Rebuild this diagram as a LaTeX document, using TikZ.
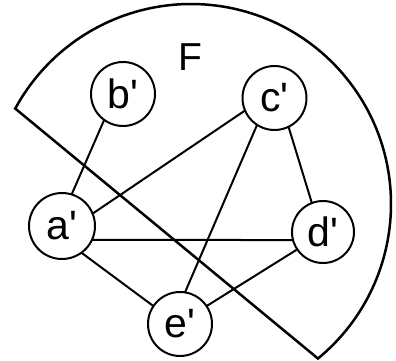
\documentclass[tikz,border=0pt]{standalone}
\usepackage{fontspec}
\newfontfamily\lab{Liberation Sans}
\begin{document}
\begin{tikzpicture}[x=1pt,y=1pt,
  vtx/.style={draw,circle,line width=2pt,inner sep=0pt,outer sep=0pt,
    font=\lab\fontsize{41}{41}\selectfont},
  edge/.style={line width=2pt},
  region/.style={line width=2.5pt}]
\useasboundingbox (0,0) rectangle (396,361);
% region F
\coordinate (O) at (191,157);
\draw[region] (O) ++(-50.6:200) arc[start angle=-50.6, end angle=151.5, radius=200] -- cycle;
\node[font=\lab\fontsize{39}{39}\selectfont] (F) at (190,304) {F};
% vertices
\node[vtx,minimum size=66pt] (a) at (62,135) {a'};
\node[vtx,minimum size=64pt] (b) at (123,267) {b'};
\node[vtx,minimum size=64pt] (c) at (274.5,263) {c'};
\node[vtx,minimum size=62pt] (d) at (323,129) {d'};
\node[vtx,minimum size=64pt] (e) at (180,37) {e'};
% edges
\draw[edge] (a.73.6) -- (b.234);
\draw[edge] (a.22) -- (c.203);
\draw[edge] (a.-25) -- (d.195);
\draw[edge] (a.-54) -- (e.146);
\draw[edge] (c.237.5) -- (e.81);
\draw[edge] (c.-64) -- (d.111);
\draw[edge] (d.214.7) -- (e.34);
\end{tikzpicture}
\end{document}
